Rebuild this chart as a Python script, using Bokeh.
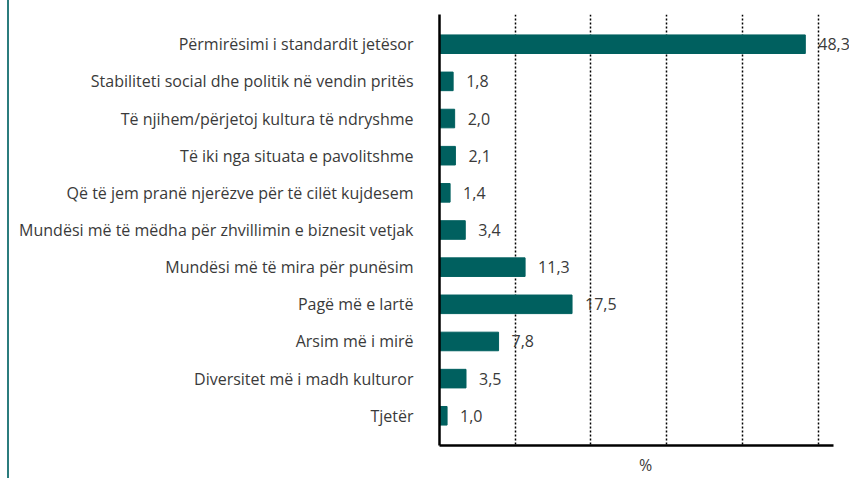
from bokeh.plotting import figure
from bokeh.models import ColumnDataSource, Range1d, FixedTicker, LabelSet
from bokeh.core.properties import value
from bokeh.embed import file_html
from bokeh.resources import INLINE

categories = [
    "Përmirësimi i standardit jetësor",
    "Stabiliteti social dhe politik në vendin pritës",
    "Të njihem/përjetoj kultura të ndryshme",
    "Të iki nga situata e pavolitshme",
    "Që të jem pranë njerëzve për të cilët kujdesem",
    "Mundësi më të mëdha për zhvillimin e biznesit vetjak",
    "Mundësi më të mira për punësim",
    "Pagë më e lartë",
    "Arsim më i mirë",
    "Diversitet më i madh kulturor",
    "Tjetër",
]
values = [48.3, 1.8, 2.0, 2.1, 1.4, 3.4, 11.3, 17.5, 7.8, 3.5, 1.0]
grid_ticks = [10, 20, 30, 40, 50]
axis_end = 52
axis_label = "%"

FONT = "Open Sans"
TEXT_COLOR = "#3a3a3a"
BAR_COLOR = "#00605f"

idx = list(range(len(categories)))
src = ColumnDataSource(dict(
    y=idx,
    v=values,
    lbl=[f"{x:.1f}".replace(".", ",") for x in values],
))

p = figure(width=842, height=478, output_backend="svg", toolbar_location=None,
           x_range=Range1d(0, 54.4), y_range=Range1d(len(categories) - 0.2, -0.8),
           min_border_left=430, min_border_right=0, min_border_top=14, min_border_bottom=22)
p.styles = {"border-left": "2px solid #2b7c7d", "margin-left": "7px"}
p.outline_line_color = None
p.background_fill_color = "white"

p.hbar(y="y", right="v", left=0, height=0.5, source=src, color=BAR_COLOR)
labels = LabelSet(x="v", y="y", text="lbl", source=src, x_offset=13, text_baseline="middle",
                  text_align="left", text_font=value(FONT), text_font_size=value("16px"),
                  text_color=TEXT_COLOR)
p.add_layout(labels)

# y axis
p.yaxis.ticker = FixedTicker(ticks=idx)
p.yaxis.major_label_overrides = {i: c for i, c in zip(idx, categories)}
p.yaxis.major_label_text_font = FONT
p.yaxis.major_label_text_font_size = "16px"
p.yaxis.major_label_text_color = TEXT_COLOR
p.yaxis.major_label_standoff = 20
p.yaxis.major_tick_line_color = None
p.yaxis.minor_tick_line_color = None
p.yaxis.axis_line_color = "black"
p.yaxis.axis_line_width = 2.5

# x axis (no tick labels; grid carries the 10-unit marks)
p.xaxis.ticker = FixedTicker(ticks=[])
p.xaxis.bounds = (0, axis_end)
p.xaxis.major_tick_line_color = None
p.xaxis.minor_tick_line_color = None
p.xaxis.axis_line_color = "black"
p.xaxis.axis_line_width = 2.5
p.xaxis.axis_label = axis_label
p.xaxis.axis_label_text_font = FONT
p.xaxis.axis_label_text_font_size = "16px"
p.xaxis.axis_label_text_font_style = "normal"
p.xaxis.axis_label_text_color = TEXT_COLOR
p.xaxis.axis_label_standoff = 8

p.xgrid.ticker = FixedTicker(ticks=grid_ticks)
p.xgrid.grid_line_color = "black"
p.xgrid.grid_line_dash = "2 2"
p.xgrid.grid_line_width = 1.5
p.ygrid.grid_line_color = None

open("out.html", "w").write(file_html(p, INLINE))
